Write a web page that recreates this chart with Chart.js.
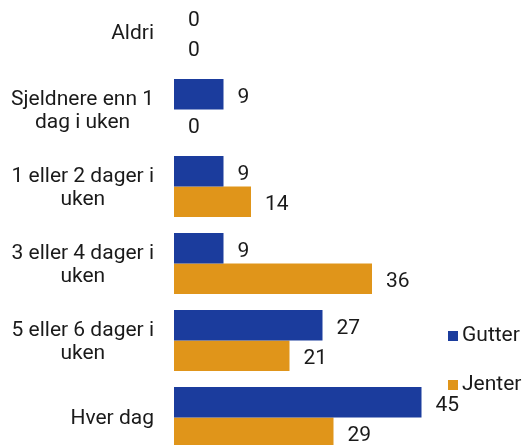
<!DOCTYPE html>
<html>
<head>
<meta charset="utf-8">
<script src="https://cdn.jsdelivr.net/npm/chart.js@4/dist/chart.umd.min.js"></script>
<style>
  html, body { margin: 0; padding: 0; background: #fff; overflow: hidden; width: 526px; height: 445px; }
  #wrap { position: absolute; left: 0; top: -6px; width: 526px; height: 462px; }
</style>
</head>
<body>
<div id="wrap"><canvas id="c"></canvas></div>
<script>
const categories = [
  ["Aldri"],
  ["Sjeldnere enn 1", "dag i uken"],
  ["1 eller 2 dager i", "uken"],
  ["3 eller 4 dager i", "uken"],
  ["5 eller 6 dager i", "uken"],
  ["Hver dag"]
];
const seriesNames = ["Gutter", "Jenter"];
const gutter = [0, 9, 9, 9, 27, 45];
const jenter = [0, 0, 14, 36, 21, 29];
const colors = ["#1b3c9d", "#e0951a"];

const FONT = "Roboto, 'DejaVu Sans', sans-serif";
const TEXT = "#1a1a1a";

const labelPlugin = {
  id: "labels",
  afterDatasetsDraw(chart) {
    const ctx = chart.ctx;
    const y = chart.scales.y;
    ctx.save();
    ctx.fillStyle = TEXT;
    ctx.font = "21px " + FONT;
    // category labels: block right-aligned, lines centered inside block
    const lineH = 23;
    const rightEdge = 154;
    chart.data.labels.forEach((lab, i) => {
      const lines = Array.isArray(lab) ? lab : [lab];
      const bw = Math.max(...lines.map(l => ctx.measureText(l).width));
      const cx = rightEdge - bw / 2;
      const c = y.getPixelForValue(i) + 1.5;
      const start = c - (lines.length - 1) * lineH / 2;
      ctx.textAlign = "center";
      ctx.textBaseline = "middle";
      lines.forEach((l, k) => ctx.fillText(l, cx, start + k * lineH));
    });
    // value labels
    ctx.textAlign = "left";
    ctx.textBaseline = "middle";
    chart.data.datasets.forEach((ds, d) => {
      chart.getDatasetMeta(d).data.forEach((bar, i) => {
        ctx.fillText(String(ds.data[i]), bar.x + 14, bar.y + 3);
      });
    });
    // legend
    chart.data.datasets.forEach((ds, d) => {
      const ly = 342 + d * 49;
      ctx.fillStyle = ds.backgroundColor;
      ctx.fillRect(448, ly - 5, 10, 10);
      ctx.fillStyle = TEXT;
      ctx.fillText(ds.label, 462, ly);
    });
    ctx.restore();
  }
};

new Chart(document.getElementById("c"), {
  type: "bar",
  data: {
    labels: categories,
    datasets: [
      { label: seriesNames[0], data: gutter, backgroundColor: colors[0] },
      { label: seriesNames[1], data: jenter, backgroundColor: colors[1] }
    ]
  },
  options: {
    indexAxis: "y",
    responsive: true,
    maintainAspectRatio: false,
    animation: false,
    layout: { padding: { left: 174, right: 77, top: 0, bottom: 0 } },
    datasets: { bar: { categoryPercentage: 0.79, barPercentage: 1.0 } },
    scales: {
      x: { display: false, min: 0, max: 50 },
      y: { display: false }
    },
    plugins: {
      legend: { display: false },
      tooltip: { enabled: false }
    }
  },
  plugins: [labelPlugin]
});
</script>
</body>
</html>
